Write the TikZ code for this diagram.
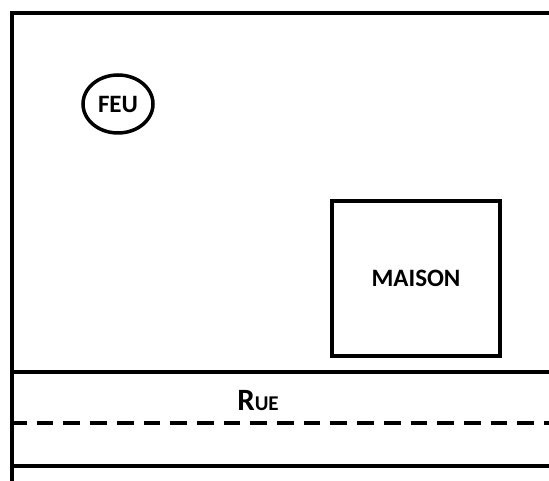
\documentclass[tikz,border=0pt]{standalone}
\usepackage{fontspec}
\setmainfont{Carlito}
\usetikzlibrary{shapes.geometric}

\tikzset{
    wall/.style = {line width = 4pt},
    mark_line/.style = {line width = 3.8pt, dash pattern = on 16.7pt off 10pt, dash phase = 2pt},
    label_txt/.style = {font = \bfseries\fontsize{25}{29}\selectfont}
}

\begin{document}
\begin{tikzpicture}[x = 1pt, y = -1pt]
        \useasboundingbox (0,0) rectangle (549,481);
        % frame of the plan
        \coordinate (corner) at (12,13);
        \coordinate (top_end) at (549,13);
        \coordinate (left_end) at (12,481);
        \draw[wall] (top_end) -- (corner) -- (left_end);
        % road
        \coordinate (road_top_l) at (12,372);
        \coordinate (road_top_r) at (549,372);
        \coordinate (road_mid_l) at (12,423);
        \coordinate (road_mid_r) at (549,423);
        \coordinate (road_bot_l) at (12,466);
        \coordinate (road_bot_r) at (549,466);
        \draw[wall] (road_top_l) -- (road_top_r);
        \draw[mark_line] (road_mid_l) -- (road_mid_r);
        \draw[wall] (road_bot_l) -- (road_bot_r);
        \node (rue) at (258,401) {\bfseries{\fontsize{31}{35}\selectfont R}{\fontsize{21}{25}\selectfont UE}};
        % fire and house
        \node (feu)[ellipse, draw, line width = 3.5pt, inner sep = 0pt,
            minimum width = 70pt, minimum height = 58pt, label_txt] at (118,104) {FEU};
        \node (maison)[rectangle, draw, line width = 4pt, inner sep = 0pt,
            minimum width = 168pt, minimum height = 155pt, label_txt] at (416,278.5) {MAISON};
    \end{tikzpicture}
\end{document}
